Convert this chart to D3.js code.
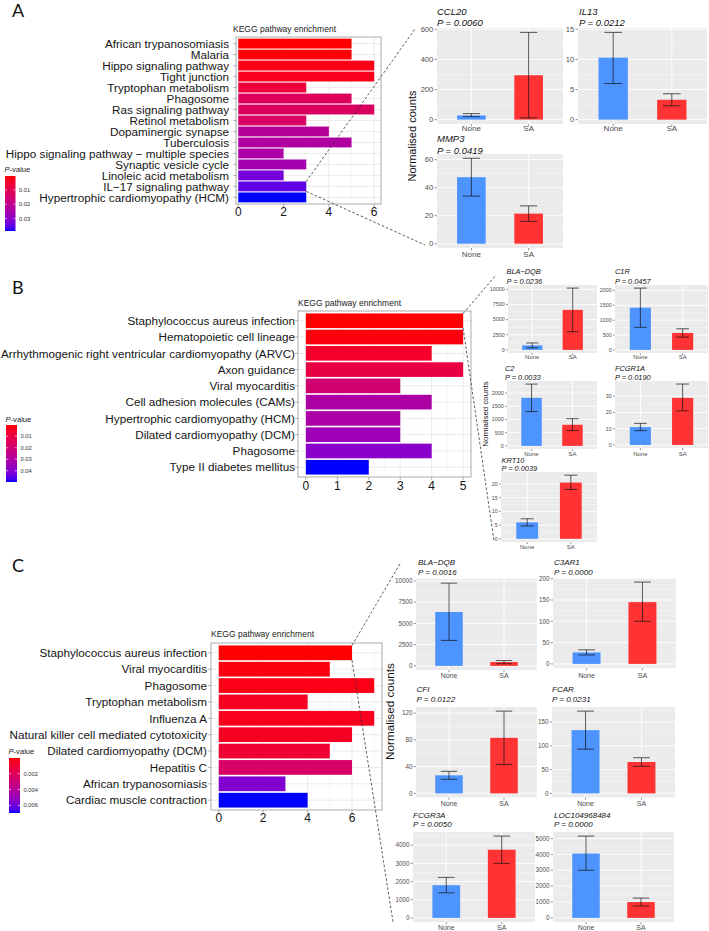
<!DOCTYPE html>
<html><head><meta charset="utf-8">
<script src="https://cdn.jsdelivr.net/npm/d3@7"></script>
<style>body{margin:0;background:#fff}svg{display:block}text{font-family:"Liberation Sans",Arial,Helvetica,sans-serif}</style>
</head><body><svg id="c" width="709" height="931"></svg>
<script>
// ---------------- DATA ----------------
const groups = ["None", "SA"];

// Panel A – KEGG
const pathsA = ["African trypanosomiasis","Malaria","Hippo signaling pathway","Tight junction","Tryptophan metabolism","Phagosome","Ras signaling pathway","Retinol metabolism","Dopaminergic synapse","Tuberculosis","Hippo signaling pathway \u2212 multiple species","Synaptic vesicle cycle","Linoleic acid metabolism","IL\u221217 signaling pathway","Hypertrophic cardiomyopathy (HCM)"];
const countsA = [5,5,6,6,3,5,6,3,4,5,2,3,2,3,3];
const pA = [0.0004,0.0008,0.0020,0.0025,0.0069,0.0119,0.0126,0.0134,0.0222,0.0233,0.0241,0.0260,0.0329,0.0348,0.0386];
const xTicksA = [0,2,4,6];
const legTicksA = [0.01,0.02,0.03];

// Panel A – genes
const genesA = ["CCL20","IL13","MMP3"];
const geneP_A = ["0.0060","0.0212","0.0419"];
const meanA = [[28,295],[10.3,3.3],[47.5,21.5]];
const lowA  = [[20,12],[6.0,2.3],[34,16]];
const highA = [[40,580],[14.5,4.3],[61,27]];
const yTicksA = [[0,200,400,600],[0,5,10,15],[0,20,40,60]];

// Panel B – KEGG
const pathsB = ["Staphylococcus aureus infection","Hematopoietic cell lineage","Arrhythmogenic right ventricular cardiomyopathy (ARVC)","Axon guidance","Viral myocarditis","Cell adhesion molecules (CAMs)","Hypertrophic cardiomyopathy (HCM)","Dilated cardiomyopathy (DCM)","Phagosome","Type II diabetes mellitus"];
const countsB = [5,5,4,5,3,4,3,3,4,2];
const pB = [0.0002,0.0012,0.0052,0.0101,0.0200,0.0310,0.0315,0.0349,0.0389,0.0498];
const xTicksB = [0,1,2,3,4,5];
const legTicksB = [0.01,0.02,0.03,0.04];

// Panel B – genes
const genesB = ["BLA\u2212DQB","C1R","C2","FCGR1A","KRT10"];
const geneP_B = ["0.0236","0.0457","0.0033","0.0190","0.0039"];
const meanB = [[750,6600],[1420,570],[1820,800],[11,29],[6,20.5]];
const lowB  = [[350,3000],[760,430],[1300,580],[8.8,21],[4.7,18]];
const highB = [[1150,10200],[2080,710],[2340,1030],[13.3,37.5],[7.3,23.2]];
const yTicksB = [[0,2500,5000,7500,10000],[0,500,1000,1500,2000],[0,500,1000,1500,2000],[0,10,20,30],[0,5,10,15,20]];

// Panel C – KEGG
const pathsC = ["Staphylococcus aureus infection","Viral myocarditis","Phagosome","Tryptophan metabolism","Influenza A","Natural killer cell mediated cytotoxicity","Dilated cardiomyopathy (DCM)","Hepatitis C","African trypanosomiasis","Cardiac muscle contraction"];
const countsC = [6,5,7,4,7,6,5,6,3,4];
const pC = [0.00002,0.00023,0.0003,0.0005,0.00044,0.00057,0.0010,0.0024,0.0056,0.00695];
const xTicksC = [0,2,4,6];
const legTicksC = [0.002,0.004,0.006];

// Panel C – genes
const genesC = ["BLA\u2212DQB","C3AR1","CFI","FCAR","FCGR3A","LOC104968484"];
const geneP_C = ["0.0016","0.0000","0.0122","0.0231","0.0050","0.0000"];
const meanC = [[6350,450],[27,145],[27,83],[133,66],[1800,3750],[4050,1000]];
const lowC  = [[3000,250],[21,100],[21,43],[93,57],[1380,3000],[3000,750]];
const highC = [[9750,620],[33,192],[33,123],[173,75],[2230,4500],[5150,1250]];
const yTicksC = [[0,2500,5000,7500,10000],[0,50,100,150,200],[0,40,80,120],[0,50,100,150],[0,1000,2000,3000,4000],[0,1000,2000,3000,4000,5000]];

// ---------------- DRAW ----------------
const svg = d3.select("#c");
const defs = svg.append("defs");
const BLUE = "#4D94FF", RED = "#FF3333";

function panelLetter(t, x, y) {
  svg.append("text").attr("x", x).attr("y", y).text(t)
    .style("font-family", "Lato, 'Open Sans', sans-serif").attr("font-size", 18).attr("fill", "#111");
}

function drawKegg(id, cfg, paths, counts, pvals, xTicks, legTicks) {
  const g = svg.append("g");
  const x = d3.scaleLinear().domain(cfg.xdom).range([cfg.x0, cfg.x1]);
  const y = d3.scalePoint().domain(paths).range([cfg.y0, cfg.y1]).padding(0.6);
  const bh = y.step() * 0.9;
  const ext = d3.extent(pvals);
  const col = d3.scaleLinear().domain(ext).range(["red", "blue"]).interpolate(d3.interpolateLab);

  g.append("rect").attr("x", cfg.x0).attr("y", cfg.y0).attr("width", cfg.x1 - cfg.x0).attr("height", cfg.y1 - cfg.y0).attr("fill", "#fff");
  const st = xTicks[1] - xTicks[0];
  const minors = d3.range(xTicks[0] - st / 2, cfg.xdom[1], st).filter(v => v > cfg.xdom[0]);
  g.selectAll(".mn").data(minors).join("line")
    .attr("x1", d => x(d)).attr("x2", d => x(d)).attr("y1", cfg.y0).attr("y2", cfg.y1)
    .attr("stroke", "#F1F1F1").attr("stroke-width", 0.5);
  g.selectAll(".mj").data(xTicks).join("line")
    .attr("x1", d => x(d)).attr("x2", d => x(d)).attr("y1", cfg.y0).attr("y2", cfg.y1)
    .attr("stroke", "#E2E2E2").attr("stroke-width", 0.7);
  g.selectAll(".hj").data(paths).join("line")
    .attr("x1", cfg.x0).attr("x2", cfg.x1).attr("y1", d => y(d)).attr("y2", d => y(d))
    .attr("stroke", "#E2E2E2").attr("stroke-width", 0.7);

  g.selectAll(".bar").data(paths).join("rect")
    .attr("x", x(0)).attr("y", d => y(d) - bh / 2)
    .attr("width", (d, i) => x(counts[i]) - x(0)).attr("height", bh)
    .attr("fill", (d, i) => col(pvals[i]));

  g.append("rect").attr("x", cfg.x0).attr("y", cfg.y0).attr("width", cfg.x1 - cfg.x0).attr("height", cfg.y1 - cfg.y0)
    .attr("fill", "none").attr("stroke", "#B3B3B3").attr("stroke-width", 1.1);

  // y axis
  g.selectAll(".yt").data(paths).join("line")
    .attr("x1", cfg.x0 - 2.8).attr("x2", cfg.x0).attr("y1", d => y(d)).attr("y2", d => y(d))
    .attr("stroke", "#999").attr("stroke-width", 0.8);
  g.selectAll(".yl").data(paths).join("text")
    .attr("x", cfg.labX).attr("y", d => y(d)).attr("dy", "0.36em")
    .attr("text-anchor", "end").attr("font-size", 11.7).attr("fill", "#151515").text(d => d);
  // x axis
  g.selectAll(".xt").data(xTicks).join("line")
    .attr("x1", d => x(d)).attr("x2", d => x(d)).attr("y1", cfg.y1).attr("y2", cfg.y1 + 2.8)
    .attr("stroke", "#999").attr("stroke-width", 0.8);
  g.selectAll(".xl").data(xTicks).join("text")
    .attr("x", d => x(d)).attr("y", cfg.xLabY).attr("text-anchor", "middle")
    .attr("font-size", 12).attr("fill", "#151515").text(d => d);
  // title
  g.append("text").attr("x", cfg.titleX).attr("y", cfg.titleY).attr("font-size", 8.5).attr("fill", "#222")
    .text("KEGG pathway enrichment");

  // legend
  const L = cfg.leg;
  const grad = defs.append("linearGradient").attr("id", id).attr("x1", 0).attr("x2", 0).attr("y1", 0).attr("y2", 1);
  d3.range(0, 1.0001, 0.05).forEach(t => {
    grad.append("stop").attr("offset", t).attr("stop-color", col(ext[0] + t * (ext[1] - ext[0])));
  });
  const lt = g.append("text").attr("x", L.x - 0.5).attr("y", L.ty).attr("font-size", 7.6).attr("fill", "#222");
  lt.append("tspan").attr("font-style", "italic").text("P");
  lt.append("tspan").text("-value");
  g.append("rect").attr("x", L.x).attr("y", L.y0).attr("width", L.w).attr("height", L.y1 - L.y0).attr("fill", `url(#${id})`);
  const ls = d3.scaleLinear().domain(ext).range([L.y0, L.y1]);
  legTicks.forEach(v => {
    g.append("line").attr("x1", L.x).attr("x2", L.x + L.w / 5).attr("y1", ls(v)).attr("y2", ls(v)).attr("stroke", "#fff").attr("stroke-width", 0.6);
    g.append("line").attr("x1", L.x + L.w).attr("x2", L.x + L.w * 4 / 5).attr("y1", ls(v)).attr("y2", ls(v)).attr("stroke", "#fff").attr("stroke-width", 0.6);
    g.append("text").attr("x", L.x + L.w + 3.5).attr("y", ls(v)).attr("dy", "0.35em").attr("font-size", 5.8).attr("fill", "#333").text(v);
  });

  // zoom lines from the selected bar's end
  const k = cfg.link.idx;
  const bx = x(counts[k]), by = y(paths[k]);
  [[by - bh / 2, cfg.link.e1], [by + bh / 2, cfg.link.e2]].forEach(([sy, e]) => {
    svg.append("line").attr("x1", bx).attr("y1", sy).attr("x2", e[0]).attr("y2", e[1])
      .attr("stroke", "#333").attr("stroke-width", 0.8).attr("stroke-dasharray", "2.6,2");
  });
}

function drawGene(L, gene, pstr, mean, lo, hi, ticks, F) {
  const g = svg.append("g");
  const M = d3.max(hi);
  const y = d3.scaleLinear().domain([-0.05 * M, 1.05 * M]).range([L.y1, L.y0]);
  const x = d3.scalePoint().domain(groups).range([L.x0, L.x1]).padding(0.6);
  const s = x.step();
  g.append("rect").attr("x", L.x0).attr("y", L.y0).attr("width", L.x1 - L.x0).attr("height", L.y1 - L.y0).attr("fill", "#EBEBEB");
  const ts = ticks[1] - ticks[0];
  const minors = d3.range(ticks[0] - ts / 2, y.domain()[1], ts).filter(v => v > y.domain()[0]);
  g.selectAll(".mn").data(minors).join("line").attr("x1", L.x0).attr("x2", L.x1)
    .attr("y1", d => y(d)).attr("y2", d => y(d)).attr("stroke", "#fff").attr("stroke-width", 0.45).attr("stroke-opacity", 0.8);
  g.selectAll(".mj").data(ticks).join("line").attr("x1", L.x0).attr("x2", L.x1)
    .attr("y1", d => y(d)).attr("y2", d => y(d)).attr("stroke", "#fff").attr("stroke-width", 0.9);
  g.selectAll(".vj").data(groups).join("line").attr("y1", L.y0).attr("y2", L.y1)
    .attr("x1", d => x(d)).attr("x2", d => x(d)).attr("stroke", "#fff").attr("stroke-width", 0.9);
  g.selectAll(".b").data(groups).join("rect")
    .attr("x", d => x(d) - s * 0.25).attr("width", s * 0.5)
    .attr("y", (d, i) => y(mean[i])).attr("height", (d, i) => y(0) - y(mean[i]))
    .attr("fill", (d, i) => i === 0 ? BLUE : RED);
  groups.forEach((d, i) => {
    const cx = x(d), w = s * 0.15;
    const e = g.append("g").attr("stroke", "#111").attr("stroke-opacity", 0.78).attr("stroke-width", 0.9);
    e.append("line").attr("x1", cx).attr("x2", cx).attr("y1", y(lo[i])).attr("y2", y(hi[i]));
    e.append("line").attr("x1", cx - w).attr("x2", cx + w).attr("y1", y(lo[i])).attr("y2", y(lo[i]));
    e.append("line").attr("x1", cx - w).attr("x2", cx + w).attr("y1", y(hi[i])).attr("y2", y(hi[i]));
  });
  // axes
  g.selectAll(".yt").data(ticks).join("line").attr("x1", L.x0 - F.tl).attr("x2", L.x0)
    .attr("y1", d => y(d)).attr("y2", d => y(d)).attr("stroke", "#333").attr("stroke-width", 0.5);
  g.selectAll(".yl").data(ticks).join("text").attr("x", L.x0 - F.tl - 1.2).attr("y", d => y(d)).attr("dy", "0.35em")
    .attr("text-anchor", "end").attr("font-size", F.tick).attr("fill", "#4D4D4D").text(d => d);
  g.selectAll(".xt").data(groups).join("line").attr("x1", d => x(d)).attr("x2", d => x(d))
    .attr("y1", L.y1).attr("y2", L.y1 + F.tl).attr("stroke", "#333").attr("stroke-width", 0.5);
  g.selectAll(".xl").data(groups).join("text").attr("x", d => x(d)).attr("y", L.xly)
    .attr("text-anchor", "middle").attr("font-size", F.xl).attr("fill", "#4D4D4D").text(d => d);
  g.append("text").attr("x", L.tx).attr("y", L.ty1).attr("font-size", F.title).attr("font-style", "italic").attr("fill", "#111").text(gene);
  g.append("text").attr("x", L.tx).attr("y", L.ty2).attr("font-size", F.title).attr("font-style", "italic").attr("fill", "#111").text("P = " + pstr);
}

function yLabel(x, y, fs) {
  svg.append("text").attr("transform", `translate(${x},${y}) rotate(-90)`).attr("text-anchor", "middle")
    .attr("dy", "0.35em").attr("font-size", fs).attr("fill", "#111").text("Normalised counts");
}

// ---- Panel A ----
panelLetter("A", 12, 17);
drawKegg("gA", {x0: 236, x1: 381, y0: 37, y1: 204, xdom: [-0.1, 6.3], labX: 229, xLabY: 216, titleX: 233, titleY: 32,
  leg: {x: 5, w: 10.5, y0: 176, y1: 231, ty: 172},
  link: {idx: 13, e1: [415, 29], e2: [425, 245]}}, pathsA, countsA, pA, xTicksA, legTicksA);
const layA = [
  {x0: 437, x1: 563, y0: 28, y1: 124, xly: 131, tx: 437, ty1: 15, ty2: 26},
  {x0: 578, x1: 707, y0: 28, y1: 124, xly: 131, tx: 579, ty1: 15, ty2: 26},
  {x0: 437, x1: 563, y0: 154, y1: 248, xly: 257, tx: 437, ty1: 142, ty2: 153.5}];
const FA = {title: 9.5, tick: 7.6, xl: 8, tl: 2.5};
genesA.forEach((gn, i) => drawGene(layA[i], gn, geneP_A[i], meanA[i], lowA[i], highA[i], yTicksA[i], FA));
yLabel(412.5, 136, 11);

// ---- Panel B ----
panelLetter("B", 12, 294);
drawKegg("gB", {x0: 298, x1: 471, y0: 311, y1: 477, xdom: [-0.25, 5.25], labX: 295, xLabY: 490, titleX: 298, titleY: 305.5,
  leg: {x: 6, w: 11, y0: 425, y1: 482, ty: 421.5},
  link: {idx: 0, e1: [496, 275], e2: [494, 541]}}, pathsB, countsB, pB, xTicksB, legTicksB);
const layB = [
  {x0: 508, x1: 597, y0: 285, y1: 353, xly: 358.5, tx: 506.5, ty1: 274, ty2: 284},
  {x0: 615, x1: 708, y0: 285, y1: 353, xly: 358.5, tx: 615, ty1: 274, ty2: 284},
  {x0: 507, x1: 597, y0: 381, y1: 449, xly: 455.5, tx: 505, ty1: 371, ty2: 380},
  {x0: 615, x1: 708, y0: 381, y1: 448, xly: 455.5, tx: 615, ty1: 371, ty2: 380},
  {x0: 501, x1: 597, y0: 472, y1: 542, xly: 548.5, tx: 501.5, ty1: 462.5, ty2: 471}];
const FB = {title: 7.4, tick: 5.4, xl: 6, tl: 2};
genesB.forEach((gn, i) => drawGene(layB[i], gn, geneP_B[i], meanB[i], lowB[i], highB[i], yTicksB[i], FB));
yLabel(485, 414, 7.9);

// ---- Panel C ----
panelLetter("C", 12, 572);
drawKegg("gC", {x0: 211, x1: 382, y0: 643, y1: 810, xdom: [-0.35, 7.35], labX: 207, xLabY: 821.5, titleX: 211, titleY: 637,
  leg: {x: 9, w: 11, y0: 758, y1: 813, ty: 754},
  link: {idx: 0, e1: [401, 562], e2: [393, 922]}}, pathsC, countsC, pC, xTicksC, legTicksC);
const layC = [
  {x0: 416, x1: 537, y0: 579, y1: 670, xly: 677.5, tx: 418, ty1: 565, ty2: 575},
  {x0: 553, x1: 676, y0: 578, y1: 668, xly: 677.5, tx: 554, ty1: 565, ty2: 575},
  {x0: 416, x1: 537, y0: 707, y1: 797.5, xly: 805.5, tx: 416.5, ty1: 691.5, ty2: 701.5},
  {x0: 552, x1: 675, y0: 707, y1: 797.5, xly: 805.5, tx: 552, ty1: 691.5, ty2: 701.5},
  {x0: 413, x1: 535, y0: 832, y1: 922, xly: 930, tx: 413, ty1: 817.5, ty2: 827.3},
  {x0: 553, x1: 674, y0: 832, y1: 922, xly: 930, tx: 554, ty1: 817.5, ty2: 827.3}];
const FC = {title: 8, tick: 6.3, xl: 7, tl: 2.3};
genesC.forEach((gn, i) => drawGene(layC[i], gn, geneP_C[i], meanC[i], lowC[i], highC[i], yTicksC[i], FC));
yLabel(389.5, 711.5, 11.7);
</script></body></html>
